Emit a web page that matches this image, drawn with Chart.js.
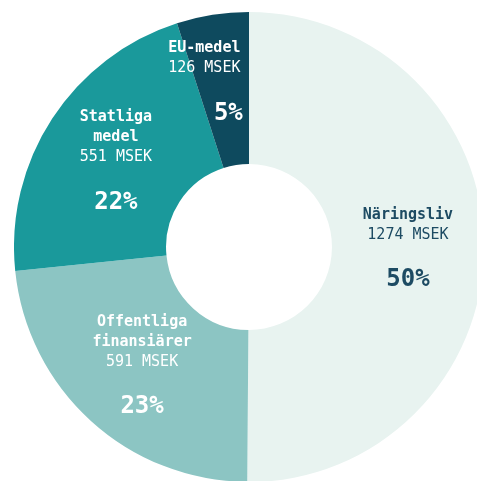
<!DOCTYPE html>
<html>
<head>
<meta charset="utf-8">
<script src="https://cdn.jsdelivr.net/npm/chart.js@4.4.0/dist/chart.umd.min.js"></script>
<style>
html, body { margin: 0; padding: 0; background: #ffffff; overflow: hidden; width: 477px; height: 481px; }
#frame { position: absolute; left: 0; top: 0; width: 477px; height: 481px; overflow: hidden; }
#wrap { position: absolute; left: 14px; top: 12px; width: 470px; height: 470px; }
</style>
</head>
<body>
<div id="frame"><div id="wrap"><canvas id="c" width="470" height="470"></canvas></div></div>
<script>
const categories = ["Näringsliv", "Offentliga\nfinansiärer", "Statliga\nmedel", "EU-medel"];
const valuesMSEK = [1274, 591, 551, 126];
const sliceColors = ["#e8f3f0", "#8cc5c3", "#1a999b", "#0e4a5e"];
const textColors = ["#1d4b63", "#ffffff", "#ffffff", "#ffffff"];

const total = valuesMSEK.reduce((a, b) => a + b, 0);

const labelPlugin = {
  id: 'sliceLabels',
  afterDatasetsDraw(chart) {
    const ctx = chart.ctx;
    const meta = chart.getDatasetMeta(0);
    meta.data.forEach((arc, i) => {
      const pos = arc.tooltipPosition();
      const lines = categories[i].split("\n").concat([valuesMSEK[i] + " MSEK"]);
      const n = lines.length;
      const totalH = (n - 1) * 20 + 45;
      const shift = (i === 3) ? { x: -20, y: -9, px: 4 } : { x: 0, y: 0, px: 0 };
      let y0 = pos.y - totalH / 2 + shift.y;
      ctx.save();
      ctx.fillStyle = textColors[i];
      ctx.textAlign = 'center';
      ctx.textBaseline = 'middle';
      lines.forEach((t, k) => {
        const isValue = k === n - 1;
        ctx.font = (isValue ? '' : 'bold ') + '15px "DejaVu Sans Mono"';
        ctx.fillText(t, pos.x + shift.x, y0 + k * 20);
      });
      const pct = Math.round(valuesMSEK[i] / total * 100) + '%';
      ctx.font = 'bold 24px "DejaVu Sans Mono"';
      ctx.fillText(pct, pos.x + shift.px, y0 + (n - 1) * 20 + 45);
      ctx.restore();
    });
  }
};

new Chart(document.getElementById('c'), {
  type: 'doughnut',
  data: {
    labels: categories.map(s => s.replace("\n", " ")),
    datasets: [{
      data: valuesMSEK,
      backgroundColor: sliceColors,
      borderWidth: 0,
      hoverOffset: 0
    }]
  },
  options: {
    responsive: false,
    animation: false,
    cutout: '35.3%',
    rotation: 0,
    layout: { padding: 0 },
    plugins: {
      legend: { display: false },
      tooltip: { enabled: false }
    }
  },
  plugins: [labelPlugin]
});
</script>
</body>
</html>
